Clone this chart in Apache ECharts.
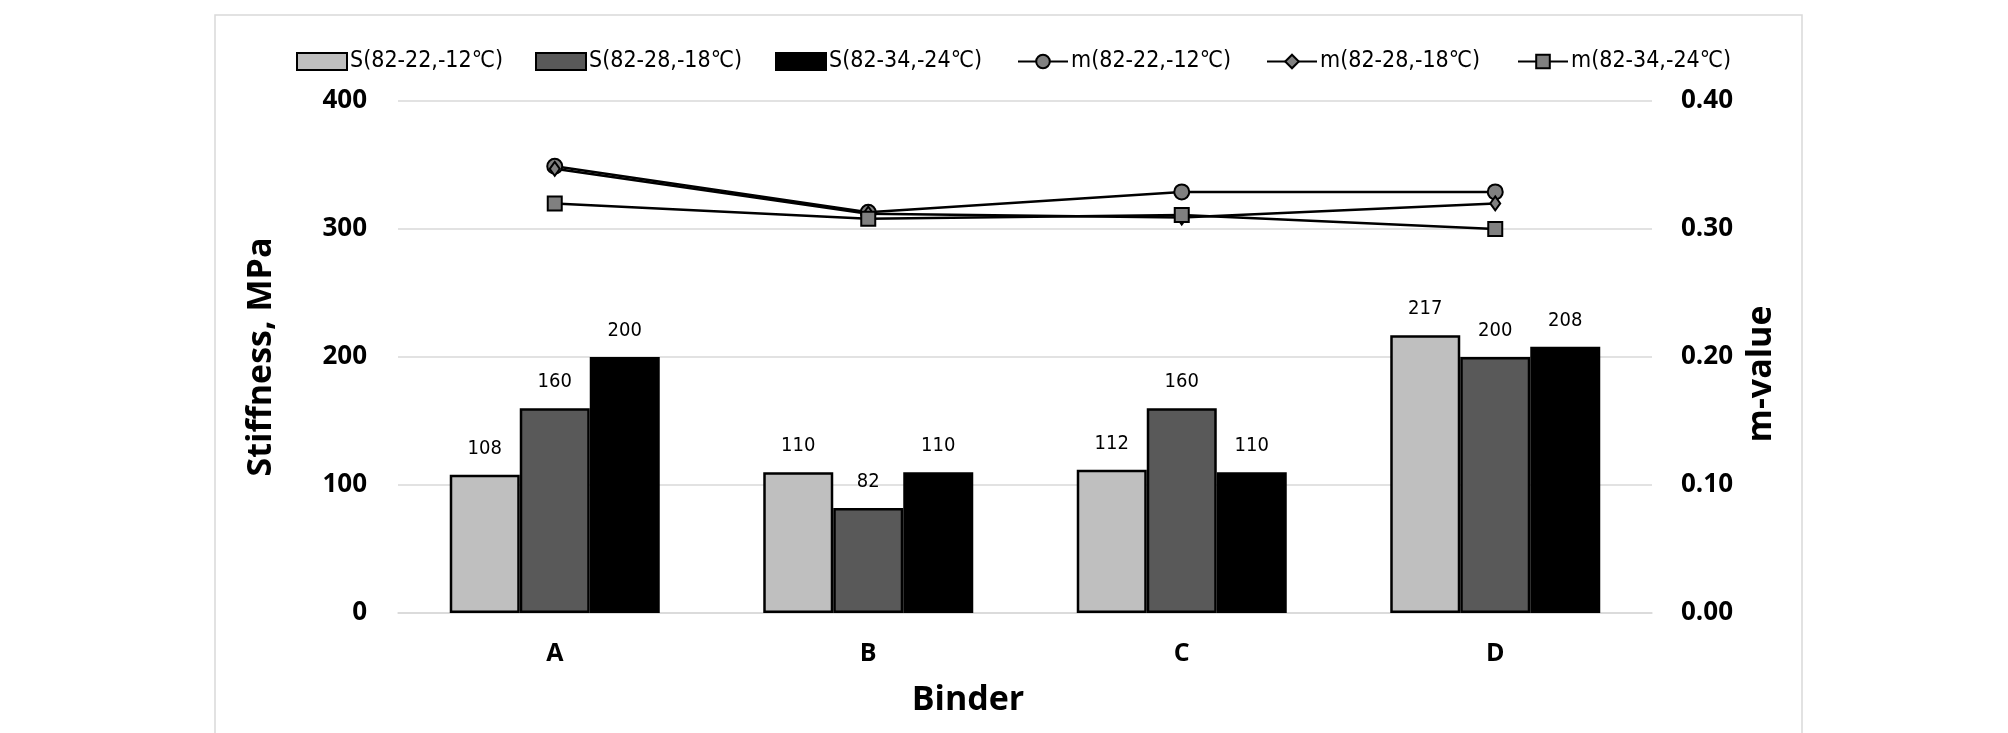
<!DOCTYPE html>
<html>
<head>
<meta charset="utf-8">
<script src="https://cdn.jsdelivr.net/npm/echarts@6/dist/echarts.min.js"></script>
<style>html,body{margin:0;padding:0;background:#fff}#c{width:2008px;height:733px}</style>
</head>
<body>
<div id="c"></div>
<script>
const categories = ['A', 'B', 'C', 'D'];
const seriesNames = ['S(82-22,-12℃)', 'S(82-28,-18℃)', 'S(82-34,-24℃)', 'm(82-22,-12℃)', 'm(82-28,-18℃)', 'm(82-34,-24℃)'];
const s1 = [108, 110, 112, 217];
const s2 = [160, 82, 160, 200];
const s3 = [200, 110, 110, 208];
const m1 = [0.349, 0.313, 0.329, 0.329];
const m2 = [0.347, 0.312, 0.309, 0.320];
const m3 = [0.320, 0.308, 0.311, 0.300];

const narrow = "'Liberation Sans Narrow', 'DejaVu Sans Condensed', 'Roboto', sans-serif";
const boldFont = "'Open Sans', 'Noto Sans', sans-serif";

const chart = echarts.init(document.getElementById('c'));

function barSeries(name, data, color) {
  return {
    name: name, type: 'bar', data: data, barWidth: 70, barGap: '0%',
    itemStyle: { color: color, borderColor: '#000', borderWidth: 2.5 },
    label: { show: true, position: 'top', distance: 16, color: '#000', fontSize: 20, fontFamily: narrow },
    z: 2
  };
}
function lineSeries(name, data, symbol, size) {
  return {
    name: name, type: 'line', yAxisIndex: 1, data: data,
    symbol: symbol, symbolSize: size,
    lineStyle: { color: '#000', width: 2.5 },
    itemStyle: { color: '#808080', borderColor: '#000', borderWidth: 2 },
    z: 5
  };
}

const legendLefts = [296, 535, 775, 1017, 1266, 1517];
const legends = seriesNames.map((n, i) => ({
  data: [i < 3 ? { name: n, icon: 'rect' } : n],
  left: legendLefts[i], top: 50, padding: 0, itemWidth: 50, itemHeight: 17, itemGap: 0,
  textStyle: { fontSize: 23, color: '#000', fontFamily: narrow, padding: [3, 0, 0, -2] }
}));

chart.setOption({
  animation: false,
  backgroundColor: '#fff',
  graphic: [{
    type: 'rect', z: -10, silent: true,
    shape: { x: 215, y: 15, width: 1587, height: 760 },
    style: { fill: 'none', stroke: '#d9d9d9', lineWidth: 1.5 }
  }],
  legend: legends,
  grid: { left: 398, top: 101, width: 1254, height: 512 },
  xAxis: {
    type: 'category', data: categories,
    axisLine: { show: true, lineStyle: { color: '#d9d9d9', width: 1.5 } },
    axisTick: { show: false },
    axisLabel: { margin: 28, fontSize: 25, fontWeight: 'bold', color: '#000', fontFamily: boldFont },
    name: 'Binder', nameLocation: 'middle', nameGap: 70,
    nameTextStyle: { fontSize: 34, fontWeight: 'bold', color: '#000', fontFamily: boldFont, padding: [0, 114, 0, 0] }
  },
  yAxis: [{
    type: 'value', min: 0, max: 400, interval: 100,
    axisLine: { show: false }, axisTick: { show: false },
    splitLine: { lineStyle: { color: '#d9d9d9', width: 1.5 } },
    axisLabel: { margin: 31, fontSize: 26, fontWeight: 'bold', color: '#000', fontFamily: boldFont },
    name: 'Stiffness, MPa', nameLocation: 'middle', nameGap: 120,
    nameTextStyle: { fontSize: 34, fontWeight: 'bold', color: '#000', fontFamily: boldFont }
  }, {
    type: 'value', min: 0, max: 0.4, interval: 0.1, position: 'right',
    axisLine: { show: false }, axisTick: { show: false },
    splitLine: { show: false },
    axisLabel: { margin: 29, fontSize: 26, fontWeight: 'bold', color: '#000', fontFamily: boldFont,
      formatter: v => v.toFixed(2) },
    name: 'm-value', nameLocation: 'middle', nameGap: 92,
    nameTextStyle: { fontSize: 34, fontWeight: 'bold', color: '#000', fontFamily: boldFont, padding: [0, 34, 0, 0] }
  }],
  series: [
    barSeries(seriesNames[0], s1, '#bfbfbf'),
    barSeries(seriesNames[1], s2, '#595959'),
    barSeries(seriesNames[2], s3, '#000000'),
    lineSeries(seriesNames[3], m1, 'circle', 15),
    lineSeries(seriesNames[4], m2, 'diamond', [10, 14]),
    lineSeries(seriesNames[5], m3, 'rect', 14)
  ]
});
</script>
</body>
</html>
